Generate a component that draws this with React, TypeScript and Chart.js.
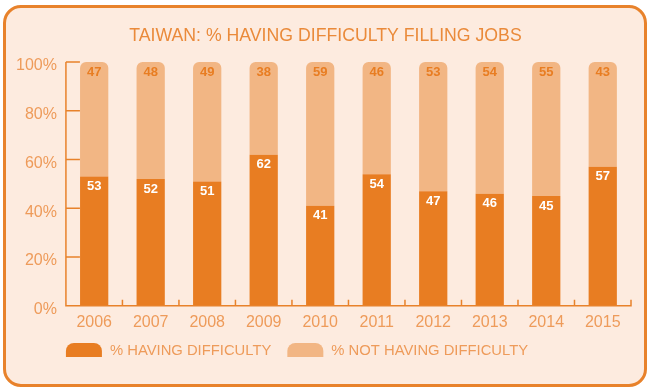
import React, { useEffect, useRef } from 'react';
import { Chart, registerables } from 'chart.js';

Chart.register(...registerables);

const years = ['2006', '2007', '2008', '2009', '2010', '2011', '2012', '2013', '2014', '2015'];
const havingDifficulty = [53, 52, 51, 62, 41, 54, 47, 46, 45, 57];
const notHavingDifficulty = [47, 48, 49, 38, 59, 46, 53, 54, 55, 43];
const yTickValues = [0, 20, 40, 60, 80, 100];
const titleText = 'TAIWAN: % HAVING DIFFICULTY FILLING JOBS';
const legendLabels = ['% HAVING DIFFICULTY', '% NOT HAVING DIFFICULTY'];

const DARK = '#E87D22';
const LIGHT = '#F2B684';
const BG = '#FDEBDF';
const AXIS = '#E8822B';
const TEXT = '#EE9B5A';
const TITLE = '#EA8A3A';
const FONT = '"Liberation Sans", Arial, Helvetica, sans-serif';

const axesPlugin = {
  id: 'customAxes',
  afterDatasetsDraw(chart: any) {
    const { ctx, chartArea, scales } = chart;
    const { left, right, top, bottom } = chartArea;
    const x = scales.x;
    const y = scales.y;
    ctx.save();
    ctx.strokeStyle = AXIS;
    ctx.lineWidth = 1.5;
    ctx.beginPath();
    ctx.moveTo(left, top);
    ctx.lineTo(left, bottom);
    ctx.lineTo(right, bottom);
    ctx.lineTo(right, bottom - 6);
    yTickValues.forEach((v) => {
      if (v === 0) return;
      const py = y.getPixelForValue(v);
      ctx.moveTo(left, py);
      ctx.lineTo(left + 14, py);
    });
    for (let i = 1; i < years.length; i++) {
      const px = (x.getPixelForValue(i - 1) + x.getPixelForValue(i)) / 2;
      ctx.moveTo(px, bottom);
      ctx.lineTo(px, bottom - 6);
    }
    ctx.stroke();

    // data labels
    ctx.font = `bold 13px ${FONT}`;
    ctx.textAlign = 'center';
    ctx.textBaseline = 'middle';
    chart.data.datasets.forEach((ds: any, di: number) => {
      const meta = chart.getDatasetMeta(di);
      meta.data.forEach((bar: any, i: number) => {
        ctx.fillStyle = di === 0 ? '#FFFFFF' : DARK;
        ctx.fillText(String(ds.data[i]), bar.x, bar.y + 10);
      });
    });
    ctx.restore();
  },
  afterDraw(chart: any) {
    const { ctx, chartArea } = chart;
    ctx.save();
    // title, centred on the panel
    ctx.font = `17.7px ${FONT}`;
    ctx.fillStyle = TITLE;
    ctx.textAlign = 'center';
    ctx.textBaseline = 'middle';
    ctx.fillText(titleText, chart.width / 2 + 2, 36);

    // legend
    const colors = [DARK, LIGHT];
    let cx = chartArea.left;
    const by = 343;
    const bh = 14;
    const bw = 36;
    ctx.font = `14.8px ${FONT}`;
    ctx.textBaseline = 'middle';
    ctx.textAlign = 'left';
    legendLabels.forEach((lab, i) => {
      ctx.fillStyle = colors[i];
      ctx.beginPath();
      const r = 8;
      ctx.moveTo(cx, by + bh);
      ctx.lineTo(cx, by + r);
      ctx.arcTo(cx, by, cx + r, by, r);
      ctx.lineTo(cx + bw - r, by);
      ctx.arcTo(cx + bw, by, cx + bw, by + r, r);
      ctx.lineTo(cx + bw, by + bh);
      ctx.closePath();
      ctx.fill();
      ctx.fillStyle = TEXT;
      const tx = cx + bw + 8;
      ctx.fillText(lab, tx, by + bh / 2 + 0.5);
      cx = tx + ctx.measureText(lab).width + 16;
    });
    ctx.restore();
  },
};

export default function App() {
  const canvasRef = useRef<HTMLCanvasElement | null>(null);

  useEffect(() => {
    if (!canvasRef.current) return;
    const chart = new Chart(canvasRef.current, {
      type: 'bar',
      data: {
        labels: years,
        datasets: [
          {
            label: legendLabels[0],
            data: havingDifficulty,
            backgroundColor: DARK,
            borderWidth: 0,
            barPercentage: 0.5,
            categoryPercentage: 1,
          },
          {
            label: legendLabels[1],
            data: notHavingDifficulty,
            backgroundColor: LIGHT,
            borderWidth: 0,
            borderRadius: { topLeft: 6, topRight: 6, bottomLeft: 0, bottomRight: 0 },
            borderSkipped: false,
            barPercentage: 0.5,
            categoryPercentage: 1,
          },
        ],
      },
      options: {
        responsive: false,
        animation: false,
        layout: { padding: { left: 7, right: 16, top: 62, bottom: 48 } },
        plugins: {
          legend: { display: false },
          tooltip: { enabled: false },
          title: { display: false },
        },
        scales: {
          x: {
            stacked: true,
            grid: { display: false, drawTicks: false },
            border: { display: false },
            ticks: {
              color: TEXT,
              font: { family: FONT, size: 16 },
              padding: 7,
              maxRotation: 0,
              autoSkip: false,
            },
          },
          y: {
            stacked: true,
            min: 0,
            max: 100,
            grid: { display: false, drawTicks: false },
            border: { display: false },
            afterBuildTicks: (scale: any) => {
              scale.ticks = yTickValues.map((v) => ({ value: v }));
            },
            ticks: {
              color: TEXT,
              font: { family: FONT, size: 16 },
              padding: 9,
              labelOffset: 4,
              callback: (v: any) => `${v}%`,
            },
          },
        },
      },
      plugins: [axesPlugin],
    });
    return () => chart.destroy();
  }, []);

  return (
    <div style={{ position: 'absolute', left: 0, top: 0, width: 647, height: 387, background: '#FFFFFF' }}>
      <div
        style={{
          position: 'absolute',
          left: 3,
          top: 5,
          width: 644,
          height: 382,
          boxSizing: 'border-box',
          background: BG,
          border: `3.5px solid ${AXIS}`,
          borderRadius: 18,
        }}
      />
      <canvas
        ref={canvasRef}
        width={647}
        height={387}
        style={{ position: 'absolute', left: 0, top: 0, width: 647, height: 387 }}
      />
    </div>
  );
}
